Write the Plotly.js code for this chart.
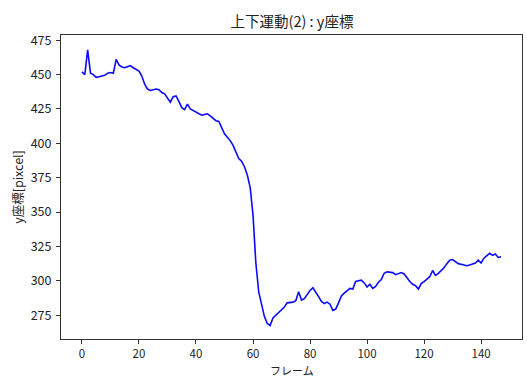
<!DOCTYPE html>
<html><head><meta charset="utf-8">
<script src="https://cdn.plot.ly/plotly-3.0.1.min.js"></script>
<style>html,body{margin:0;padding:0;background:#fff;}#chart{width:527px;height:378px;}</style>
</head><body><div id="chart"></div>
<script>
const frames = Array.from({length: 148}, (_, i) => i);
const yCoord = [
 452, 450, 468, 451, 450, 448, 448.5, 449, 449.5, 451,
 451.5, 451, 461, 457, 455.5, 455, 456, 456.5, 455, 454,
 452.5, 449, 443, 439.5, 438.5, 439, 439.5, 439, 437, 436,
 433, 430, 434, 434.5, 430.5, 426, 424.5, 428.5, 425, 424,
 423, 421.5, 420.5, 421, 421.5, 420, 418, 416.5, 416, 411,
 407, 404.5, 402, 398.5, 393, 389, 387, 383, 377, 368,
 348, 313, 292, 282, 274, 269, 267.5, 273, 275, 276.5,
 279, 281, 284, 284, 284.5, 285.5, 292, 286, 287, 290,
 293, 295, 292, 288.5, 285, 283.5, 284.5, 283, 278.5, 279.5,
 284, 289, 291, 292.5, 294.5, 294, 299.5, 300, 300.5, 298.5,
 295.5, 297.5, 294.5, 296, 299, 301, 305.5, 306.5, 306.5, 306,
 304.5, 305, 306, 305, 302, 299.5, 297.5, 296.5, 294, 298,
 299.5, 301, 303, 307.5, 304, 305.5, 307.5, 309.5, 312.5, 315,
 315.5, 314, 312.5, 312, 311.5, 311, 311.5, 312, 313, 315,
 313, 316.5, 318.5, 320, 318.5, 319.5, 317, 317.5
];
const titleText = '上下運動(2) : y座標';
const xLabel = 'フレーム';
const yLabel = 'y座標[pixcel]';
const xTicks = [0, 20, 40, 60, 80, 100, 120, 140];
const yTicks = [275, 300, 325, 350, 375, 400, 425, 450, 475];

const font = '"Noto Sans CJK JP", "Noto Sans", sans-serif';
const axisCommon = {
  showgrid: false, zeroline: false, showline: true, mirror: true,
  linecolor: '#333', linewidth: 1, ticks: 'outside', ticklen: 4,
  tickcolor: '#333', tickwidth: 1, ticklabelstandoff: 2,
  tickfont: {family: font, size: 12.5, color: '#222'}
};
Plotly.newPlot('chart', [{
  x: frames, y: yCoord, type: 'scatter', mode: 'lines',
  line: {color: '#0a0aff', width: 1.6}, hoverinfo: 'skip'
}], {
  width: 527, height: 378,
  margin: {l: 61, r: 5, t: 35, b: 39},
  paper_bgcolor: '#fff', plot_bgcolor: '#fff',
  showlegend: false,
  title: {text: titleText, x: 0.554, xanchor: 'center', y: 0.942, yanchor: 'middle',
          font: {family: font, size: 14.5, color: '#222'}},
  xaxis: Object.assign({}, axisCommon, {
    range: [-7.35, 154.35], tickvals: xTicks, ticklabelstandoff: 0,
    tickfont: {family: font, size: 11.5, color: '#222'}
  }),
  yaxis: Object.assign({}, axisCommon, {
    range: [257.7, 478.8], tickvals: yTicks,
    title: {text: yLabel, standoff: 4, font: {family: font, size: 12.5, color: '#222'}}
  }),
  annotations: [{
    text: xLabel, xref: 'paper', yref: 'paper', x: 0.5, y: -0.102,
    xanchor: 'center', yanchor: 'middle', showarrow: false,
    font: {family: font, size: 11, color: '#222'}
  }]
}, {staticPlot: true});
</script></body></html>
